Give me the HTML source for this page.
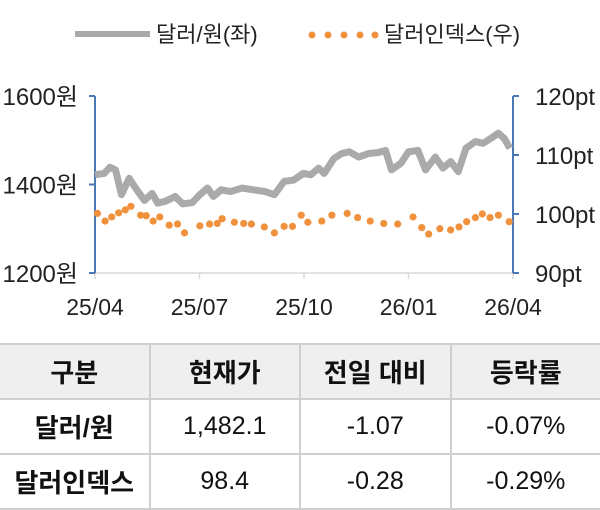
<!DOCTYPE html>
<html><head><meta charset="utf-8">
<style>
body{margin:0;width:600px;height:504px;background:#fff;font-family:"Liberation Sans","Noto Sans CJK KR",sans-serif;overflow:hidden;position:relative}
svg{position:absolute;left:0;top:0}
table{position:absolute;left:-2px;top:343px;width:604px;border-collapse:collapse;table-layout:fixed}
td,th{border:2px solid #cfcfcf;text-align:center;font-size:25px;color:#111;padding:0;height:53px}
th{background:#efefef;font-weight:bold;font-size:26px}
td.l{font-weight:bold;font-size:26px}
</style></head><body>
<svg width="600" height="340">
<g id="legend">
<line x1="75" y1="34" x2="150" y2="34" stroke="#aaa" stroke-width="6"/>
<text x="156" y="42" font-size="22" fill="#222">달러/원(좌)</text>
<g>
<circle cx="312" cy="35" r="3.5" fill="#f0913d"/><circle cx="328" cy="35" r="3.5" fill="#f0913d"/><circle cx="344" cy="35" r="3.5" fill="#f0913d"/><circle cx="360" cy="35" r="3.5" fill="#f0913d"/><circle cx="375" cy="35" r="3.5" fill="#f0913d"/></g>
<text x="384" y="42" font-size="22" fill="#222">달러인덱스(우)</text>
</g>
<g id="axes"></g>
<g id="marks"></g>
</svg>
<table>
<tr><th>구분</th><th>현재가</th><th>전일 대비</th><th>등락률</th></tr>
<tr><td class="l">달러/원</td><td>1,482.1</td><td>-1.07</td><td>-0.07%</td></tr>
<tr><td class="l">달러인덱스</td><td>98.4</td><td>-0.28</td><td>-0.29%</td></tr>
</table>
<script>
const xTickLabels=["25/04","25/07","25/10","26/01","26/04"];
const leftTicks=[1200,1400,1600];
const rightTicks=[90,100,110,120];
const krwMonths=[0,0.26,0.43,0.59,0.76,0.98,1.2,1.42,1.64,1.8,2.02,2.3,2.52,2.79,3.01,3.23,3.4,3.62,3.89,4.22,4.55,4.88,5.15,5.43,5.7,5.98,6.2,6.42,6.58,6.86,7.08,7.3,7.57,7.85,8.12,8.34,8.51,8.78,9.0,9.27,9.49,9.77,9.99,10.21,10.43,10.65,10.92,11.14,11.36,11.58,11.75,11.91];
const krwValues=[1422,1425,1439,1433,1377,1414,1388,1364,1380,1358,1362,1373,1356,1359,1377,1392,1373,1388,1384,1392,1388,1384,1377,1407,1410,1425,1422,1437,1425,1459,1470,1474,1462,1470,1472,1477,1433,1448,1474,1477,1433,1462,1437,1452,1429,1482,1497,1493,1504,1516,1504,1482];
const dxyMonths=[0.07,0.29,0.48,0.68,0.87,1.03,1.31,1.47,1.67,1.86,2.13,2.37,2.57,3.01,3.29,3.51,3.65,4.0,4.27,4.49,4.86,5.15,5.43,5.67,5.92,6.11,6.51,6.8,7.24,7.54,7.9,8.29,8.69,9.13,9.38,9.58,9.9,10.21,10.45,10.67,10.92,11.12,11.34,11.58,11.89];
const dxyValues=[100.1,98.8,99.5,100.2,100.7,101.3,99.8,99.7,98.8,99.5,98.1,98.3,96.8,98.0,98.3,98.4,99.2,98.6,98.4,98.3,97.8,96.8,97.9,97.9,99.8,98.6,98.8,99.8,100.1,99.4,98.8,98.4,98.3,99.5,97.7,96.6,97.5,97.3,97.8,98.7,99.4,100.0,99.4,99.8,98.7];
const X0=95,X1=513,YT=96,YB=273;
const x=m=>X0+(X1-X0)*m/12;
const yL=v=>YB-(YB-YT)*(v-1200)/400;
const yR=v=>YB-(YB-YT)*(v-90)/30;
const NS="http://www.w3.org/2000/svg";
function mk(t,a,p){const e=document.createElementNS(NS,t);for(const k in a)e.setAttribute(k,a[k]);p.appendChild(e);return e;}
const ax=document.getElementById('axes'),mg=document.getElementById('marks');
let e=mk('line',{x1:X0,y1:YB,x2:X1,y2:YB,stroke:'#d9d9d9','stroke-width':1.5},ax);


xTickLabels.forEach((l,i)=>{const xx=x(i*3);
 const t=mk('line',{x1:xx,y1:YB,x2:xx,y2:YB+6,stroke:'#d9d9d9','stroke-width':1.5},ax);
 
 
 const tx=mk('text',{x:xx,y:YB+42,'font-size':23,'text-anchor':'middle',fill:'#222'},ax);tx.textContent=l;
 
 });
e=mk('line',{x1:X0,y1:YT,x2:X0,y2:YB,stroke:'#4a78b5','stroke-width':2},ax);


e=mk('line',{x1:X1,y1:YT,x2:X1,y2:YB,stroke:'#4a78b5','stroke-width':2},ax);


leftTicks.forEach(v=>{const yy=yL(v);
 mk('line',{x1:X0-6,y1:yy,x2:X0,y2:yy,stroke:'#4a78b5','stroke-width':2},ax);
 const t=mk('text',{x:X0-17,y:yy+9,'font-size':24,'text-anchor':'end',fill:'#222'},ax);t.textContent=v+'원';
 
 });
rightTicks.forEach(v=>{const yy=yR(v);
 mk('line',{x1:X1,y1:yy,x2:X1+6,y2:yy,stroke:'#4a78b5','stroke-width':2},ax);
 const t=mk('text',{x:X1+22,y:yy+9,'font-size':24,fill:'#222'},ax);t.textContent=v+'pt';
 
 });
const pl=mk('polyline',{points:krwMonths.map((m,i)=>x(m)+','+yL(krwValues[i])).join(' '),fill:'none',stroke:'#aaaaaa','stroke-width':7,'stroke-linejoin':'round'},mg);


dxyMonths.forEach((m,i)=>{const c=mk('circle',{cx:x(m),cy:yR(dxyValues[i]),r:3.6,fill:'#f0913d'},mg);
 
 });
</script>
</body></html>
